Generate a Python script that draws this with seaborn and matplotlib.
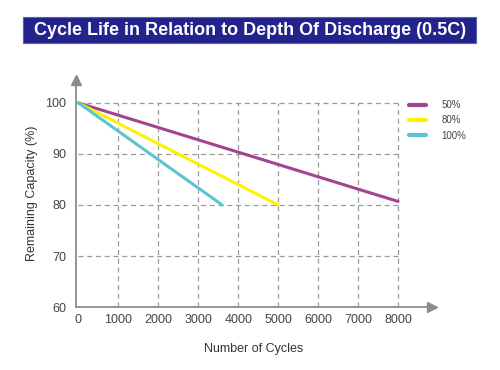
import matplotlib
matplotlib.use("Agg")
import matplotlib.pyplot as plt
import seaborn as sns
import pandas as pd
from matplotlib.patches import Rectangle

# Data
cycles_50 = [0, 8000]
capacity_50 = [100, 80.7]
cycles_80 = [0, 5000]
capacity_80 = [100, 80]
cycles_100 = [0, 3600]
capacity_100 = [100, 80]

dod_labels = ["50%", "80%", "100%"]
line_colors = ["#a3448f", "#fff200", "#5bc3d1"]
x_ticks = [0, 1000, 2000, 3000, 4000, 5000, 6000, 7000, 8000]
y_ticks = [60, 70, 80, 90, 100]

df = pd.concat([
    pd.DataFrame({"cycles": cycles_50, "capacity": capacity_50, "dod": dod_labels[0]}),
    pd.DataFrame({"cycles": cycles_80, "capacity": capacity_80, "dod": dod_labels[1]}),
    pd.DataFrame({"cycles": cycles_100, "capacity": capacity_100, "dod": dod_labels[2]}),
])

sns.set_style("white")
plt.rcParams["font.family"] = ["Liberation Sans", "DejaVu Sans"]

fig = plt.figure(figsize=(5, 3.7), dpi=100)
ax = fig.add_axes([0.152, 0.170, 0.712, 0.614])

# dashed grid limited to the data box
grid_kw = dict(colors="#9a9a9a", linestyles=(0, (4, 3)), linewidth=0.9, zorder=1)
ax.hlines(y_ticks[1:], 0, x_ticks[-1], **grid_kw)
ax.vlines(x_ticks[1:], y_ticks[0], y_ticks[-1], **grid_kw)

sns.lineplot(data=df, x="cycles", y="capacity", hue="dod", palette=line_colors,
             linewidth=2.2, ax=ax, zorder=3)

ax.set_xlim(-60, 8850)
ax.set_ylim(60, 104.5)
ax.set_xticks(x_ticks)
ax.set_yticks(y_ticks)
ax.tick_params(axis="both", length=0, labelsize=9, labelcolor="#444444")
ax.tick_params(axis="y", pad=7)
ax.tick_params(axis="x", pad=5)
ax.set_xlabel("Number of Cycles", fontsize=9, color="#333333", labelpad=12)
ax.set_ylabel("Remaining Capacity (%)", fontsize=9, color="#333333", labelpad=5)

for side in ["top", "right"]:
    ax.spines[side].set_visible(False)
for side in ["left", "bottom"]:
    ax.spines[side].set_color("#8c8c8c")
    ax.spines[side].set_linewidth(1.3)

# arrow heads on the axes
ax.plot(1, 0, ">", color="#8c8c8c", markersize=7, transform=ax.transAxes, clip_on=False)
ax.plot(0, 1, "^", color="#8c8c8c", markersize=7, transform=ax.transAxes, clip_on=False)

sns.move_legend(ax, "upper left", bbox_to_anchor=(0.91, 0.95), frameon=False,
                title=None, fontsize=7, handlelength=1.8, handletextpad=1.6,
                labelspacing=0.55, labelcolor="#444444")
for h in ax.get_legend().legend_handles:
    h.set_linewidth(3)

# title banner
fig.patches.append(Rectangle((23 / 500, 1 - 43 / 370), 453 / 500, 26 / 370,
                             transform=fig.transFigure, facecolor="#22238c",
                             edgecolor="#5a5fb0", linewidth=0.8, zorder=0))
fig.text(0.5, 1 - 30.5 / 370, "Cycle Life in Relation to Depth Of Discharge (0.5C)",
         ha="center", va="center", color="white", fontsize=13, fontweight="bold")

fig.savefig("out.png", dpi=100)
